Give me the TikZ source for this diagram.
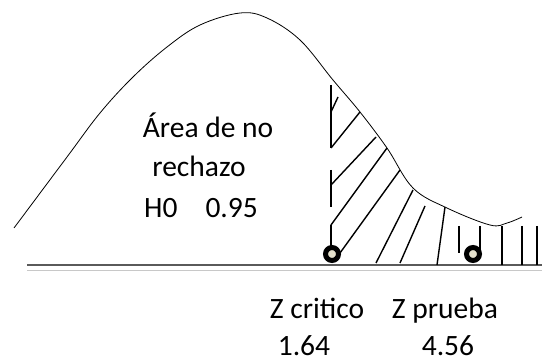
\documentclass[tikz,border=0pt]{standalone}
\usepackage{fontspec}
\setmainfont{Carlito}
\usepackage{tikz}

\definecolor{linegray}{RGB}{90,90,90}
\definecolor{lightgray}{RGB}{200,200,200}
\definecolor{dotfill}{RGB}{228,224,204}

\tikzset{
    lbl/.style={font=\fontsize{29.5}{34}\selectfont, inner sep=0pt, anchor=base},
    hatch/.style={line width=1.4pt},
    zdot/.style={circle, draw=black, line width=5pt, fill=dotfill, minimum size=13pt, inner sep=0pt}
}

\begin{document}
\begin{tikzpicture}[x=1pt,y=-1pt]
    \useasboundingbox (0,0) rectangle (542,361);

    % Base line
    \draw[line width=2pt,linegray] (27,265) -- (542,265);
    \draw[line width=1.5pt,lightgray] (27,270.5) -- (542,270.5);

    % Bell curve
    \draw[line width=0.8pt] plot[smooth,tension=0.6] coordinates
        {(14,228) (67,157) (100,113) (133,77) (167,47) (200,25) (240,13) (267,18) (300,40)
         (333,80) (360,112) (387,148) (413,188) (447,208) (490,225) (507,223) (522,217)};

    % Critical line
    \draw[hatch] (331,85) -- (331,148);
    \draw[hatch] (331,170) -- (331,207);
    \draw[hatch] (331,225) -- (331,253);

    % Hatching of the rejection area
    \foreach \xa/\ya/\xb/\yb in {331/112/338/97, 331/148/360/112, 331/185/376/137, 331/225/387/148,
        340/253/400/170, 376/263/413/190, 400/263/425/206, 437/265/445/207}
        \draw[hatch] (\xa,\ya) -- (\xb,\yb);
    \foreach \x/\yb in {459/253, 480/253, 502/265, 522/265, 537/265}
        \draw[hatch] (\x,226) -- (\x,\yb);

    % Points on the axis
    \node[zdot] (zcrit) at (332,254) {};
    \node[zdot] (zprueba) at (473,254) {};

    % Labels
    \node[lbl] (area) at (208,138) {Área de no};
    \node[lbl] (rech) at (199,177) {rechazo};
    \node[lbl] (hcero) at (201,218) {H0\hspace{28pt}0.95};
    \node[lbl] (zclbl) at (317,319) {Z critico};
    \node[lbl] (zplbl) at (445,319) {Z prueba};
    \node[lbl] (zcval) at (304,355) {1.64};
    \node[lbl] (zpval) at (448,355) {4.56};

\end{tikzpicture}
\end{document}
